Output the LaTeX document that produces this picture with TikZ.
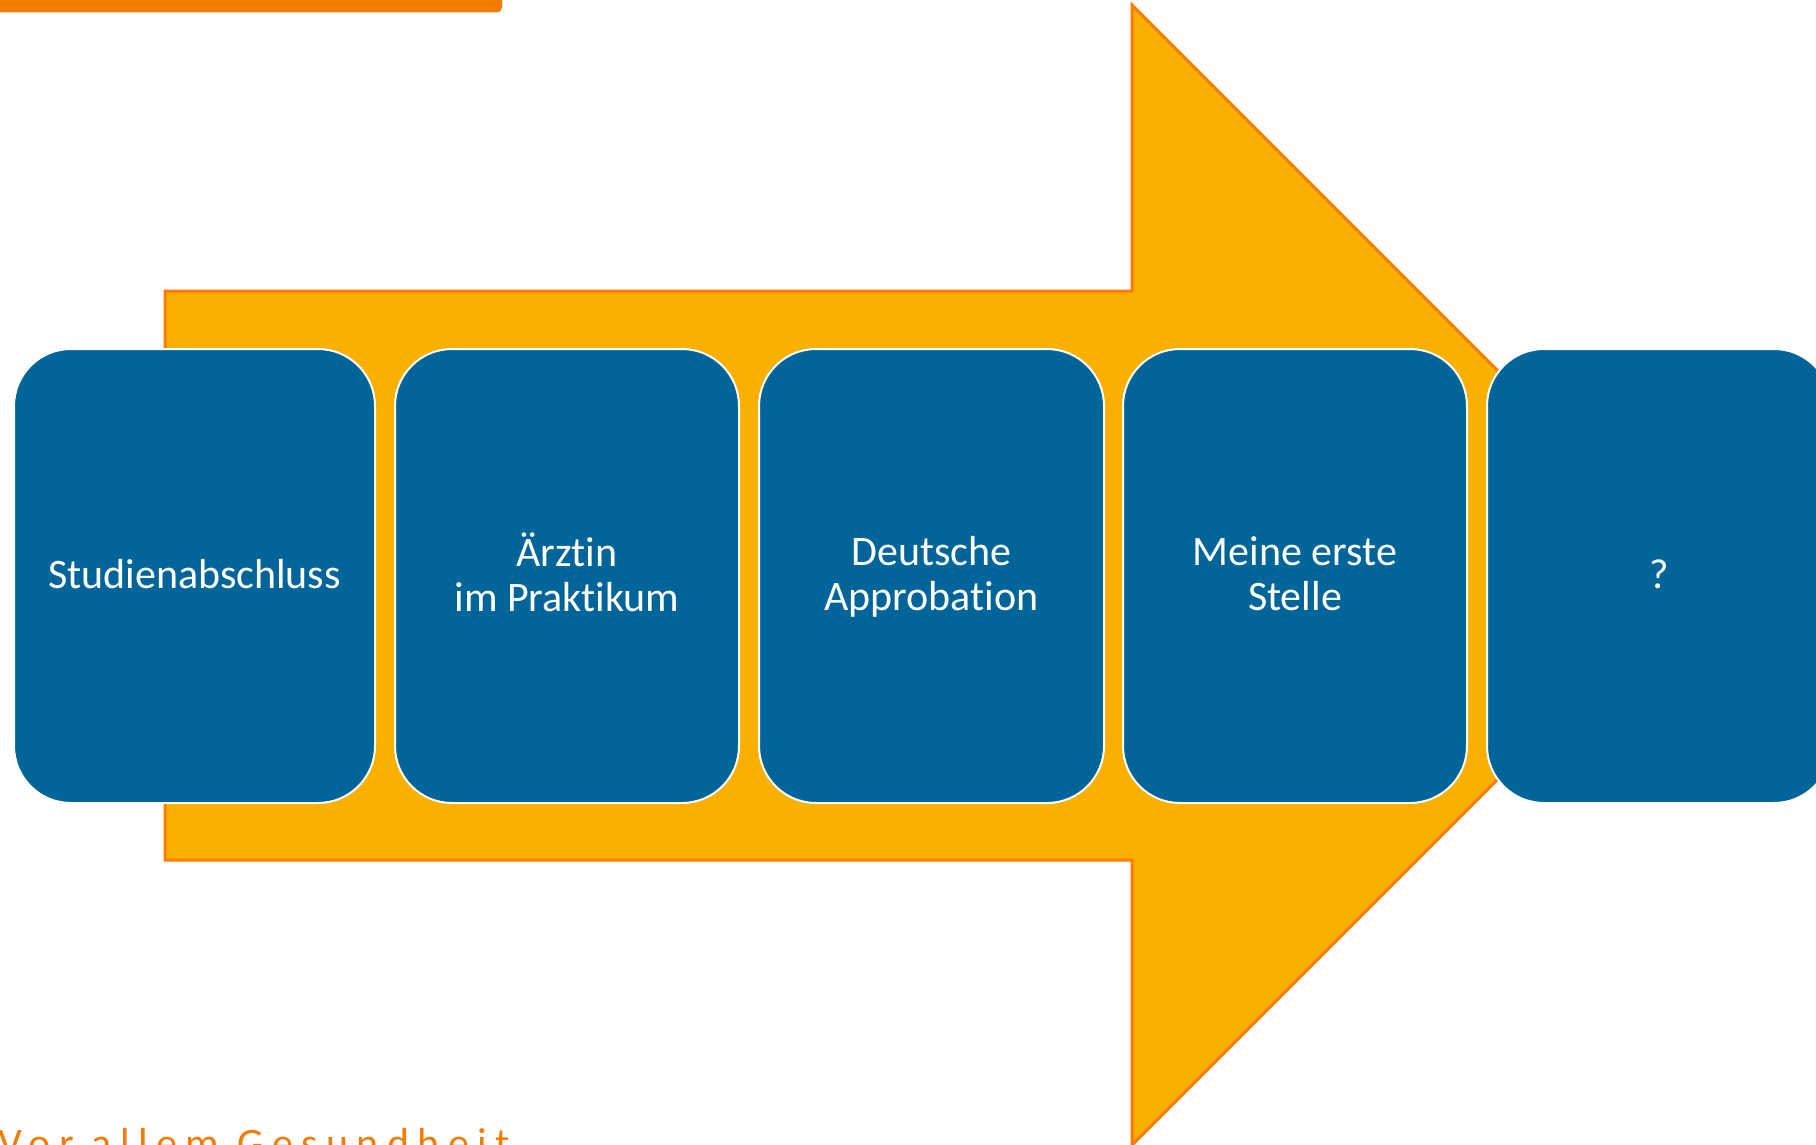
\documentclass[tikz,border=0pt]{standalone}
\usepackage{fontspec}
\setmainfont{Carlito}[Ligatures=NoCommon]
\newfontfamily\footfont[LetterSpace=20,Ligatures=NoCommon]{Carlito}
\definecolor{boxblue}{RGB}{2,101,153}
\definecolor{arrowfill}{RGB}{250,176,0}
\definecolor{arrowline}{RGB}{255,122,0}
\definecolor{barorange}{RGB}{242,124,0}
\newcommand{\lnstrut}{\rule[-4pt]{0pt}{20pt}}
\tikzset{
  stepbox/.style={draw=white, line width=1pt, fill=boxblue, rounded corners=28.5pt,
    minimum height=227pt, text=white, align=center, inner sep=0pt,
    font=\fontsize{21}{22.5}\selectfont},
  bigarrow/.style={fill=arrowfill, draw=arrowline, line width=1.5pt, line join=miter},
}
\begin{document}
\begin{tikzpicture}[x=0.5pt,y=-0.5pt]
\useasboundingbox (0,0) rectangle (1816,1145);
\clip (0,0) rectangle (1816,1145);
% top bar
\fill[barorange, rounded corners=2.5pt] (-20,-20) rectangle (502,12.5);
% big arrow
\draw[bigarrow] (165,291) -- (1132,291) -- (1132,5) -- (1702,575) -- (1132,1145) -- (1132,860) -- (165,860) -- cycle;
% boxes
\node[stepbox, minimum width=180.5pt] (b1) at (194.5,576) {\lnstrut Studienabschluss};
\node[stepbox, minimum width=172pt] (b2) at (567,576) {\lnstrut Ärztin\\\lnstrut im Praktikum};
\node[stepbox, minimum width=172.5pt] (b3) at (931.5,576) {\lnstrut Deutsche\\\lnstrut Approbation};
\node[stepbox, minimum width=172pt] (b4) at (1295,576) {\lnstrut Meine erste\\\lnstrut Stelle};
\node[stepbox, minimum width=172pt] (b5) at (1659,576) {\lnstrut ?};
% footer text
\node[anchor=base west, inner sep=0pt, text=barorange, font=\footfont\fontsize{21}{25}\selectfont] (foot) at (-2,1157) {Vor allem Gesundheit};
\end{tikzpicture}
\end{document}
